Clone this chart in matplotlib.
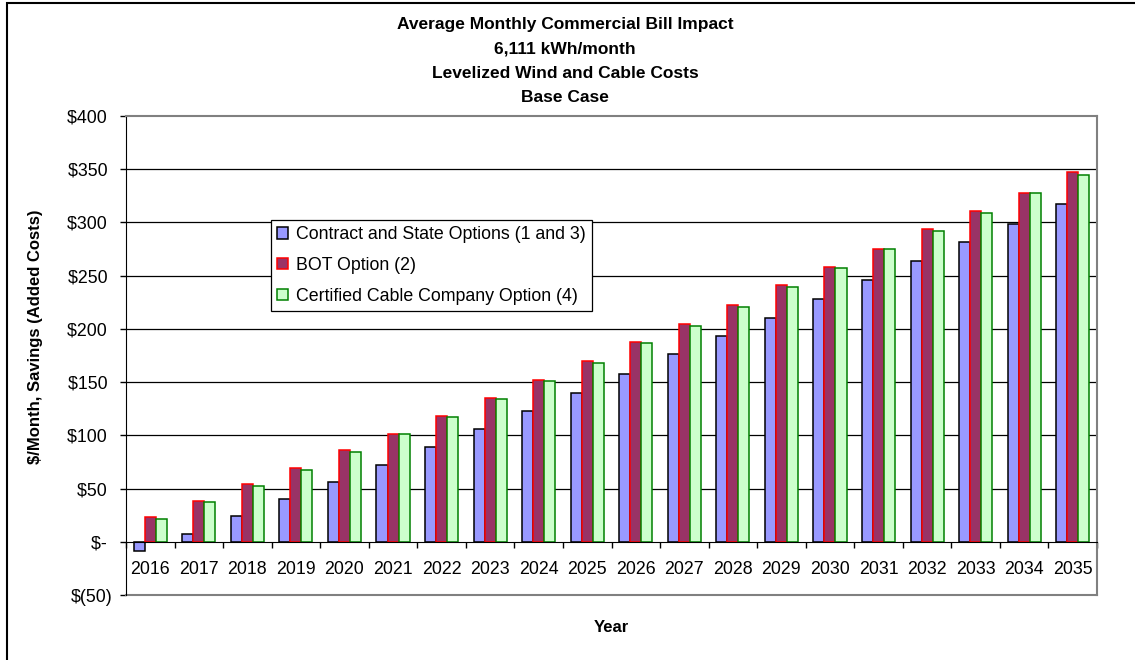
import numpy as np
import matplotlib.pyplot as plt
from matplotlib.ticker import FixedLocator, FuncFormatter

plt.rcParams['font.family'] = ['Liberation Sans', 'DejaVu Sans']

years = [str(y) for y in range(2016, 2036)]
contract_state = [-9, 7, 24, 40, 56, 72, 89, 106, 123, 140, 158, 176, 193, 210, 228, 246, 264, 282, 299, 317]
bot_option = [23, 38, 54, 69, 86, 101, 118, 135, 152, 170, 188, 205, 222, 241, 258, 275, 294, 311, 328, 347]
cable_company = [21, 37, 52, 67, 84, 101, 117, 134, 151, 168, 187, 203, 221, 239, 257, 275, 292, 309, 328, 345]
series_names = ['Contract and State Options (1 and 3)', 'BOT Option (2)', 'Certified Cable Company Option (4)']
y_ticks = [-50, 0, 50, 100, 150, 200, 250, 300, 350, 400]

title_lines = ['Average Monthly Commercial Bill Impact', '6,111 kWh/month',
               'Levelized Wind and Cable Costs', 'Base Case']

fig = plt.figure(figsize=(11.35, 6.6), dpi=100)
ax = fig.add_axes([126/1135, 1-595/660, (1097-126)/1135, (595-116)/660])

x = np.arange(len(years))
w = 0.227
ax.bar(x - w, contract_state, w, color='#9999FF', edgecolor='black', linewidth=1.1, label=series_names[0], zorder=3)
ax.bar(x, bot_option, w, color='#993366', edgecolor='#FF0000', linewidth=1.1, label=series_names[1], zorder=3)
ax.bar(x + w, cable_company, w, color='#CCFFCC', edgecolor='#008000', linewidth=1.1, label=series_names[2], zorder=3)

ax.set_xlim(-0.5, len(years) - 0.5)
ax.set_ylim(-50, 400)

# gridlines
for yv in y_ticks[2:-1]:
    ax.axhline(yv, color='black', linewidth=0.9, zorder=1)

# category axis sits on zero
ax.spines['bottom'].set_position(('data', 0))
ax.spines['bottom'].set_color('black')
ax.spines['bottom'].set_zorder(4)
ax.spines['left'].set_color('black')
ax.spines['top'].set_color('#808080')
ax.spines['right'].set_color('#808080')
ax.spines['top'].set_linewidth(1.5)
ax.spines['right'].set_linewidth(1.5)
ax.axhline(-50, color='#808080', linewidth=1.5, clip_on=False, zorder=2)

ax.set_xticks(x)
ax.set_xticklabels(years, fontsize=12.8)
ax.xaxis.set_minor_locator(FixedLocator(np.arange(-0.5, len(years), 1.0)))
ax.tick_params(axis='x', which='major', length=0, pad=14)
ax.tick_params(axis='x', which='minor', length=4, width=1, direction='out', color='black')

def money(v, pos):
    if v == 0:
        return '$- '
    if v < 0:
        return '$(%d)' % abs(v)
    return '$%d ' % v

ax.set_yticks(y_ticks)
ax.yaxis.set_major_formatter(FuncFormatter(money))
ax.tick_params(axis='y', length=4, width=1, labelsize=12.8, pad=6)

for i, line in enumerate(title_lines):
    fig.text(0.498, 1 - (25 + 24*i)/660, line, ha='center', va='center', fontsize=12.5, fontweight='bold')
fig.text(0.539, 1-628/660, 'Year', ha='center', va='center', fontsize=12, fontweight='bold')
fig.text(0.031, 1-337/660, '$/Month, Savings (Added Costs)', ha='center', va='center', rotation=90,
         fontsize=12, fontweight='bold')

leg = ax.legend(loc='upper left', bbox_to_anchor=(271/1135, 1-220/660), bbox_transform=fig.transFigure,
                borderaxespad=0, fancybox=False, edgecolor='black', framealpha=1, fontsize=12.8,
                handlelength=0.6, handleheight=0.6, handletextpad=0.45, labelspacing=0.78,
                borderpad=0.35)
leg.get_frame().set_linewidth(0.9)
leg.set_zorder(5)

# outer chart border (only top/left visible in frame)
fig.add_artist(plt.Rectangle((7/1135, -0.1), 1.2, 1.1 - 3/660, transform=fig.transFigure,
                             fill=False, edgecolor='black', linewidth=1.5))

fig.savefig('out.png', dpi=100)
